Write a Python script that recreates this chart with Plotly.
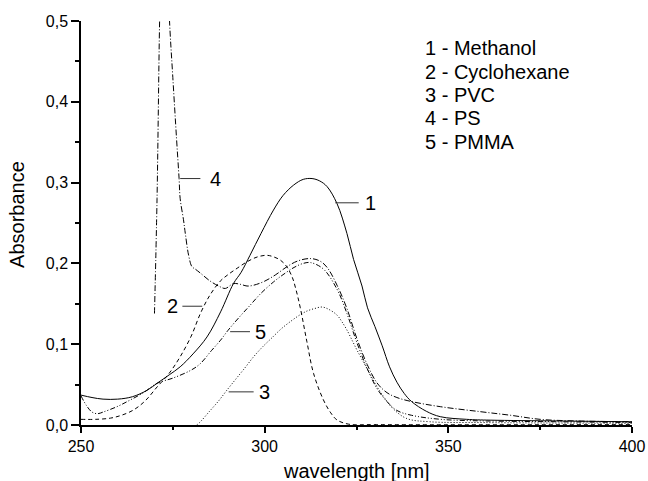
import plotly.graph_objects as go

# ---- data ----
x1 = [250, 253, 256, 260, 264, 268, 270.7, 274, 277, 280.5, 284.3, 288, 291.5, 293.6, 296, 299, 302.4, 305, 307.9, 310.5, 312.9, 315, 317, 319.7, 322.4, 324.2, 326.5, 328, 330, 332, 334, 336, 338, 340, 344, 347.8, 355, 361.4, 380, 400]
y1 = [0.037, 0.034, 0.032, 0.032, 0.035, 0.043, 0.0516, 0.062, 0.072, 0.088, 0.109, 0.14, 0.175, 0.189, 0.21, 0.237, 0.266, 0.284, 0.297, 0.304, 0.305, 0.302, 0.295, 0.274, 0.237, 0.205, 0.172, 0.145, 0.122, 0.098, 0.072, 0.053, 0.039, 0.029, 0.017, 0.0103, 0.007, 0.006, 0.005, 0.004]

x2 = [250, 254, 258, 261, 264.3, 267.5, 270.7, 274, 277, 280, 282.5, 285, 287.9, 290, 292.5, 295.2, 298, 300.6, 302.5, 304.3, 306, 307.5, 308.5, 309.7, 311.5, 313.3, 316, 318, 319.7, 322.9, 330, 400]
y2 = [0.007, 0.007, 0.0085, 0.012, 0.0186, 0.03, 0.047, 0.064, 0.0845, 0.11, 0.138, 0.16, 0.178, 0.186, 0.194, 0.202, 0.208, 0.21, 0.208, 0.204, 0.196, 0.183, 0.168, 0.145, 0.103, 0.064, 0.031, 0.015, 0.0062, 0.001, 0.0005, 0.0005]

x3 = [281.5, 282.5, 285, 287.5, 289.7, 292, 294.5, 297, 299.5, 302, 304.5, 307, 309.5, 311.5, 313.5, 315.6, 317.5, 319.7, 321, 322.4, 324, 325.1, 327, 328.8, 330.5, 332.4, 335, 338.7, 345, 360, 400]
y3 = [0.0, 0.004, 0.017, 0.03, 0.043, 0.056, 0.07, 0.0845, 0.097, 0.108, 0.119, 0.128, 0.136, 0.141, 0.144, 0.146, 0.143, 0.136, 0.128, 0.1175, 0.103, 0.093, 0.077, 0.062, 0.048, 0.035, 0.02, 0.008, 0.004, 0.003, 0.002]

x4 = [270.0, 270.7, 271.4, 272.0, 272.8, 273.5, 274.1, 275.0, 276.0, 276.7, 277.0, 277.9, 278.4, 279.3, 280.2, 281.1, 282.5, 285.2, 287.9, 289.3, 291.5, 293.5, 295.2, 297, 300, 303, 306.1, 309, 312.4, 315, 317, 319.7, 322.4, 325.1, 327.9, 330.6, 333.3, 336, 340, 347.8, 358.7, 367, 375, 385, 400]
y4 = [0.138, 0.28, 0.5, 0.62, 0.66, 0.58, 0.5, 0.43, 0.355, 0.305, 0.28, 0.254, 0.237, 0.21, 0.196, 0.193, 0.188, 0.178, 0.171, 0.169, 0.175, 0.174, 0.172, 0.173, 0.178, 0.186, 0.196, 0.203, 0.206, 0.203, 0.195, 0.173, 0.144, 0.107, 0.075, 0.052, 0.040, 0.034, 0.029, 0.0227, 0.0165, 0.012, 0.007, 0.005, 0.004]

x5 = [250, 251.5, 253, 254.5, 256, 259.8, 263, 267, 270.7, 275, 280, 282.5, 285.5, 288, 290, 293, 296, 299, 302.4, 305, 308, 310.5, 312.5, 316, 319.7, 322.4, 325.1, 327.9, 330.6, 333.3, 336, 340, 348, 360, 380, 400]
y5 = [0.036, 0.024, 0.016, 0.014, 0.016, 0.0227, 0.03, 0.04, 0.0516, 0.058, 0.068, 0.076, 0.092, 0.105, 0.117, 0.133, 0.148, 0.163, 0.177, 0.186, 0.195, 0.2, 0.201, 0.193, 0.168, 0.138, 0.102, 0.07, 0.045, 0.029, 0.018, 0.012, 0.007, 0.005, 0.004, 0.003]

curve_numbers = ["1", "2", "3", "4", "5"]
legend_lines = ["1 - Methanol", "2 - Cyclohexane", "3 - PVC", "4 - PS", "5 - PMMA"]
x_ticks = [250, 300, 350, 400]
y_ticks = [0.0, 0.1, 0.2, 0.3, 0.4, 0.5]
x_title = "wavelength [nm]"
y_title = "Absorbance"

# ---- styling ----
FONT = "Liberation Sans, Arial, sans-serif"
series = [
    (x1, y1, "solid"),
    (x2, y2, "4px,3px"),
    (x3, y3, "1px,2px"),
    (x4, y4, "6px,2px,1px,2px"),
    (x5, y5, "5px,2px,1px,2px,1px,2px"),
]

fig = go.Figure()
for (xs, ys, dash), name in zip(series, legend_lines):
    fig.add_trace(go.Scatter(x=xs, y=ys, mode="lines", name=name,
                             line=dict(color="black", width=1, dash=dash),
                             line_shape="spline", showlegend=False))

# curve labels with leader lines: (text x, text y, line x0, line x1)
label_pos = [
    (328.8, 0.275, 319.2, 325.6),
    (274.8, 0.147, 277.6, 283.0),
    (299.9, 0.041, 290.2, 297.0),
    (286.6, 0.305, 277.0, 282.5),
    (298.8, 0.1155, 290.6, 296.0),
]
for num, (tx, ty, lx0, lx1) in zip(curve_numbers, label_pos):
    fig.add_shape(type="line", x0=lx0, x1=lx1, y0=ty, y1=ty, xref="x", yref="y",
                  line=dict(color="#333333", width=1))
    fig.add_annotation(x=tx, y=ty, text=num, showarrow=False, xanchor="center",
                       yanchor="middle", font=dict(family=FONT, size=20, color="black"))

legend_y = [0.466, 0.437, 0.4084, 0.3795, 0.3502]
for txt, ly in zip(legend_lines, legend_y):
    fig.add_annotation(x=343.0, y=ly, text=txt, showarrow=False, xanchor="left",
                       yanchor="middle", font=dict(family=FONT, size=20, color="black"))

# axis titles
fig.add_annotation(x=0.5, y=0, xref="paper", yref="paper", text=x_title, showarrow=False,
                   xanchor="center", yanchor="middle", yshift=-46,
                   font=dict(family=FONT, size=20, color="black"))
fig.add_annotation(x=0, y=0.52, xref="paper", yref="paper", text=y_title, showarrow=False,
                   textangle=-90, xanchor="center", yanchor="middle", xshift=-64,
                   font=dict(family=FONT, size=20, color="black"))

axis_common = dict(showgrid=False, zeroline=False, showline=True, linecolor="black",
                   linewidth=1.5, ticks="outside", tickcolor="black", tickwidth=1.5,
                   tickfont=dict(family=FONT, size=16, color="black"), mirror=False,
                   automargin=False)
fig.update_xaxes(range=[250, 400], tickvals=x_ticks, ticklen=6,
                 minor=dict(dtick=25, tick0=250, ticks="outside", ticklen=3, tickcolor="black", tickwidth=1.5),
                 **axis_common)
fig.update_yaxes(range=[0, 0.5], tickvals=y_ticks, tickformat=".1f", ticklen=8,
                 minor=dict(dtick=0.05, tick0=0, ticks="outside", ticklen=4, tickcolor="black", tickwidth=1.5),
                 **axis_common)

fig.update_layout(width=648, height=481, separators=",.",
                  margin=dict(l=81, r=16, t=21, b=56),
                  plot_bgcolor="white", paper_bgcolor="white",
                  font=dict(family=FONT, color="black"))

# remove the default page margin so the 648x481 figure fills the window exactly
fig.write_html("out.html", config={"displayModeBar": False},
               post_script="document.body.style.margin='0';document.body.style.overflow='hidden';")
